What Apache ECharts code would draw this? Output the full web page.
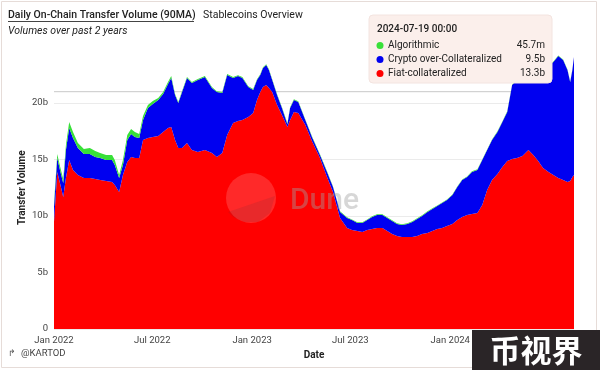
<!DOCTYPE html>
<html><head><meta charset="utf-8">
<script src="https://cdn.jsdelivr.net/npm/echarts@6/dist/echarts.min.js"></script>
<style>html,body{margin:0;padding:0;background:#fff}#c{width:600px;height:370px}</style>
</head><body><div id="c"></div>
<script>
const dates = [
'2022-01-01','2022-01-07','2022-01-12','2022-01-18','2022-01-23','2022-01-29','2022-02-05','2022-02-14','2022-02-25','2022-03-08',
'2022-03-18','2022-03-27','2022-04-07','2022-04-18','2022-04-23','2022-05-01','2022-05-08','2022-05-16','2022-05-23','2022-05-30',
'2022-06-07','2022-06-14','2022-06-23','2022-07-02','2022-07-12','2022-07-21','2022-07-30','2022-08-05','2022-08-12','2022-08-18',
'2022-08-25','2022-09-03','2022-09-12','2022-09-23','2022-10-06','2022-10-19','2022-10-28','2022-11-07','2022-11-16','2022-11-27',
'2022-12-06','2022-12-14','2022-12-25','2023-01-03','2023-01-10','2023-01-16','2023-01-21','2023-01-27','2023-02-01','2023-02-07',
'2023-02-16','2023-02-25','2023-03-07','2023-03-12','2023-03-19','2023-03-27','2023-04-09','2023-04-22','2023-05-06','2023-05-19',
'2023-05-30','2023-06-12','2023-06-25','2023-07-04','2023-07-14','2023-07-23','2023-08-01','2023-08-10','2023-08-19','2023-08-29',
'2023-09-07','2023-09-16','2023-09-25','2023-10-04','2023-10-14','2023-10-23','2023-11-01','2023-11-10','2023-11-20','2023-11-29',
'2023-12-08','2023-12-17','2023-12-26','2024-01-05','2024-01-14','2024-01-23','2024-02-01','2024-02-10','2024-02-20','2024-02-29',
'2024-03-09','2024-03-18','2024-03-28','2024-04-06','2024-04-15','2024-04-24','2024-05-03','2024-05-13','2024-05-24','2024-06-02',
'2024-06-11','2024-06-20','2024-06-30','2024-07-09','2024-07-18','2024-07-27','2024-08-04','2024-08-09','2024-08-13','2024-08-16'
];
// Fiat-collateralized (billions)
const fiat = [
9.47,13.89,12.92,11.68,13.36,14.96,14.07,13.63,13.36,13.36,
13.27,13.19,13.10,13.01,12.74,12.12,13.63,14.78,15.22,15.13,
15.13,16.73,16.90,16.99,17.08,17.43,17.79,17.88,16.73,16.02,
16.02,16.46,15.84,15.66,15.84,15.58,15.22,15.58,17.17,18.23,
18.41,18.50,18.76,19.12,20.27,20.97,21.42,21.59,21.33,20.97,
19.82,18.94,17.88,18.50,19.20,19.12,18.05,16.55,15.13,13.45,
12.12,9.82,8.94,8.76,8.67,8.58,8.76,8.85,8.94,8.94,
8.67,8.41,8.23,8.14,8.14,8.14,8.23,8.41,8.50,8.67,
8.85,8.94,9.12,9.29,9.65,9.91,10.09,10.18,10.27,10.97,
12.30,13.19,13.72,14.34,14.87,15.04,15.13,15.31,15.84,15.40,
14.87,14.25,13.89,13.63,13.36,13.19,13.01,13.10,13.45,13.63
];
// Crypto over-Collateralized (billions)
const crypto = [
1.33,1.24,1.15,1.24,2.48,2.83,2.83,2.39,2.12,2.12,
1.95,1.95,1.86,1.95,1.77,1.24,0.88,1.95,2.04,1.86,
1.77,1.77,2.65,2.92,3.19,3.36,3.89,4.34,3.98,3.98,
4.96,5.75,5.93,6.37,6.46,5.75,5.75,5.31,5.31,3.98,
3.98,3.72,2.65,2.04,1.77,1.50,1.68,1.77,1.59,1.06,
0.88,0.62,0.25,1.06,1.06,0.97,0.44,0.35,0.27,0.44,
0.44,0.53,0.88,0.88,0.71,0.80,0.88,1.06,1.15,1.15,
1.15,1.15,1.06,1.06,1.15,1.33,1.50,1.59,1.86,1.95,
2.04,2.21,2.30,2.57,2.92,3.27,3.36,3.72,3.81,3.98,
3.54,3.54,3.72,3.98,4.34,6.55,6.90,6.90,6.64,7.35,
8.05,8.85,9.38,10.00,10.80,10.62,9.91,8.76,9.47,10.44
];
// Algorithmic (billions)
const algo = [
0.27,0.35,0.35,0.35,0.44,0.53,0.53,0.44,0.44,0.53,
0.53,0.44,0.44,0.44,0.44,0.27,0.44,0.44,0.44,0.44,
0.35,0.35,0.27,0.27,0.18,0.18,0.18,0.18,0.09,0.09,
0.09,0.09,0.09,0.09,0.09,0.09,0.08,0.08,0.08,0.08,
0.07,0.07,0.07,0.07,0.07,0.07,0.07,0.07,0.07,0.07,
0.07,0.07,0.07,0.07,0.07,0.07,0.06,0.06,0.06,0.06,
0.06,0.06,0.06,0.06,0.06,0.06,0.06,0.06,0.06,0.06,
0.06,0.06,0.06,0.06,0.06,0.06,0.06,0.06,0.06,0.06,
0.05,0.05,0.05,0.05,0.05,0.05,0.05,0.05,0.05,0.05,
0.05,0.05,0.05,0.05,0.05,0.05,0.05,0.05,0.05,0.05,
0.05,0.05,0.05,0.05,0.05,0.05,0.05,0.047,0.046,0.046
];
const seriesNames = ['Fiat-collateralized','Crypto over-Collateralized','Algorithmic'];
const seriesColors = ['#ff0000','#0000f0','#38e038'];
const tipDate = '2024-07-19 00:00';
const tipRows = [['Algorithmic','45.7m','#38e038'],['Crypto over-Collateralized','9.5b','#0000f0'],['Fiat-collateralized','13.3b','#ff0000']];
const refLineValue = 21.0;
const monthNames = ['Jan','Feb','Mar','Apr','May','Jun','Jul','Aug','Sep','Oct','Nov','Dec'];

const FONT = 'Roboto, "Noto Sans", sans-serif';
const chart = echarts.init(document.getElementById('c'), null, {renderer:'canvas'});

function pairs(vals){ return dates.map((d,i)=>[d, vals[i]]); }
const mk = (name, vals, color) => ({
  name, type:'line', stack:'total', data: pairs(vals), showSymbol:false, symbol:'none',
  lineStyle:{width:0}, areaStyle:{color, opacity:1}, itemStyle:{color}, z:2, silent:true, animation:false
});

const tipX = 369, tipY = 15, TZ = 40;
const tipChildren = [
  {type:'rect', z:TZ, shape:{x:tipX, y:tipY, width:183, height:68, r:4}, style:{fill:'#fbefeb', stroke:'#f3e4e0'}},
  {type:'text', z:TZ+1, style:{x:tipX+8, y:tipY+14, text:tipDate, font:'500 10px '+FONT, fill:'#222', verticalAlign:'middle'}}
];
tipRows.forEach((r,i)=>{
  const yy = tipY + 30.5 + i*14;
  tipChildren.push({type:'circle', z:TZ+1, shape:{cx:tipX+11, cy:yy, r:3.5}, style:{fill:r[2]}});
  tipChildren.push({type:'text', z:TZ+1, style:{x:tipX+19, y:yy, text:r[0], font:'10px '+FONT, fill:'#222', verticalAlign:'middle'}});
  tipChildren.push({type:'text', z:TZ+1, style:{x:tipX+176, y:yy, text:r[1], font:'10px '+FONT, fill:'#222', verticalAlign:'middle', align:'right'}});
});

chart.setOption({
  animation:false,
  backgroundColor:'#ffffff',
  grid:{left:54, right:26, top:46.5, bottom:41, containLabel:false},
  xAxis:{
    type:'time', min:dates[0], max:dates[dates.length-1], splitNumber:5,
    name:'Date', nameLocation:'middle', nameGap:15,
    nameTextStyle:{fontFamily:FONT, fontSize:10, fontWeight:'bold', color:'#222'},
    axisLine:{show:false}, axisTick:{show:false}, splitLine:{show:false},
    axisLabel:{fontFamily:FONT, fontSize:9.5, color:'#444', margin:7, showMinLabel:true, showMaxLabel:false, hideOverlap:false,
      formatter:(v)=>{const d=new Date(v); return monthNames[d.getMonth()]+' '+d.getFullYear();}}
  },
  yAxis:{
    type:'value', min:0, max:25, interval:5,
    name:'Transfer Volume', nameLocation:'middle', nameGap:27, nameRotate:90, nameMoveOverlap:false,
    nameTextStyle:{fontFamily:FONT, fontSize:10, fontWeight:'bold', color:'#222'},
    axisLine:{show:false}, axisTick:{show:false},
    splitLine:{show:true, showMaxLine:false, lineStyle:{color:'#ebebeb', width:1}},
    axisLabel:{fontFamily:FONT, fontSize:9.5, color:'#444', margin:6, showMaxLabel:false,
      formatter:(v)=> v===0 ? '0' : v+'b'}
  },
  series:[
    {name:'ref', type:'line', z:1, silent:true, showSymbol:false, symbol:'none',
      data:[[dates[0], refLineValue],[dates[dates.length-1], refLineValue]],
      lineStyle:{color:'#c8c8c8', width:1, type:'solid'}, animation:false},
    mk(seriesNames[0], fiat, seriesColors[0]),
    mk(seriesNames[1], crypto, seriesColors[1]),
    mk(seriesNames[2], algo, seriesColors[2])
  ],
  graphic:[
    {type:'rect', z:0, shape:{x:1.5, y:1.5, width:595, height:366}, style:{fill:null, stroke:'#e6dcd8', lineWidth:1}, silent:true},
    {type:'text', z:10, style:{x:8, y:15.5, text:'Daily On-Chain Transfer Volume (90MA)', font:'500 10.5px '+FONT, fill:'#222', verticalAlign:'middle'}},
    {type:'line', z:10, shape:{x1:8, y1:21.5, x2:194, y2:21.5}, style:{stroke:'#444', lineWidth:1}},
    {type:'text', z:10, style:{x:203, y:15.5, text:'Stablecoins Overview', font:'10.5px '+FONT, fill:'#222', verticalAlign:'middle'}},
    {type:'text', z:10, style:{x:8, y:31, text:'Volumes over past 2 years', font:'italic 10.5px '+FONT, fill:'#222', verticalAlign:'middle'}},
    {type:'group', z:TZ, children:tipChildren},
    {type:'text', z:10, style:{x:8, y:354, text:'↱', font:'9px '+FONT, fill:'#555', verticalAlign:'middle'}},
    {type:'text', z:10, style:{x:21, y:354, text:'@KARTOD', font:'9.5px '+FONT, fill:'#444', verticalAlign:'middle'}},
    {type:'circle', z:15, shape:{cx:251, cy:198, r:25}, style:{fill:'rgba(255,255,255,0.16)'}, silent:true},
    {type:'polygon', z:15, shape:{points:[[228,212],[275,196],[270,213],[258,222],[244,222],[233,217]]}, style:{fill:'rgba(90,40,60,0.14)'}, silent:true},
    {type:'text', z:15, style:{x:290, y:201, text:'Dune', font:'500 30px '+FONT, fill:'rgba(160,160,160,0.42)', verticalAlign:'middle'}, silent:true},
    {type:'rect', z:30, shape:{x:472, y:330, width:128, height:40}, style:{fill:'#2a2527'}},
    {type:'text', z:31, style:{x:536, y:350, text:'币视界', font:'bold 31px "Noto Sans CJK SC", sans-serif', fill:'#ffffff', align:'center', verticalAlign:'middle'}}
  ]
});
</script></body></html>
